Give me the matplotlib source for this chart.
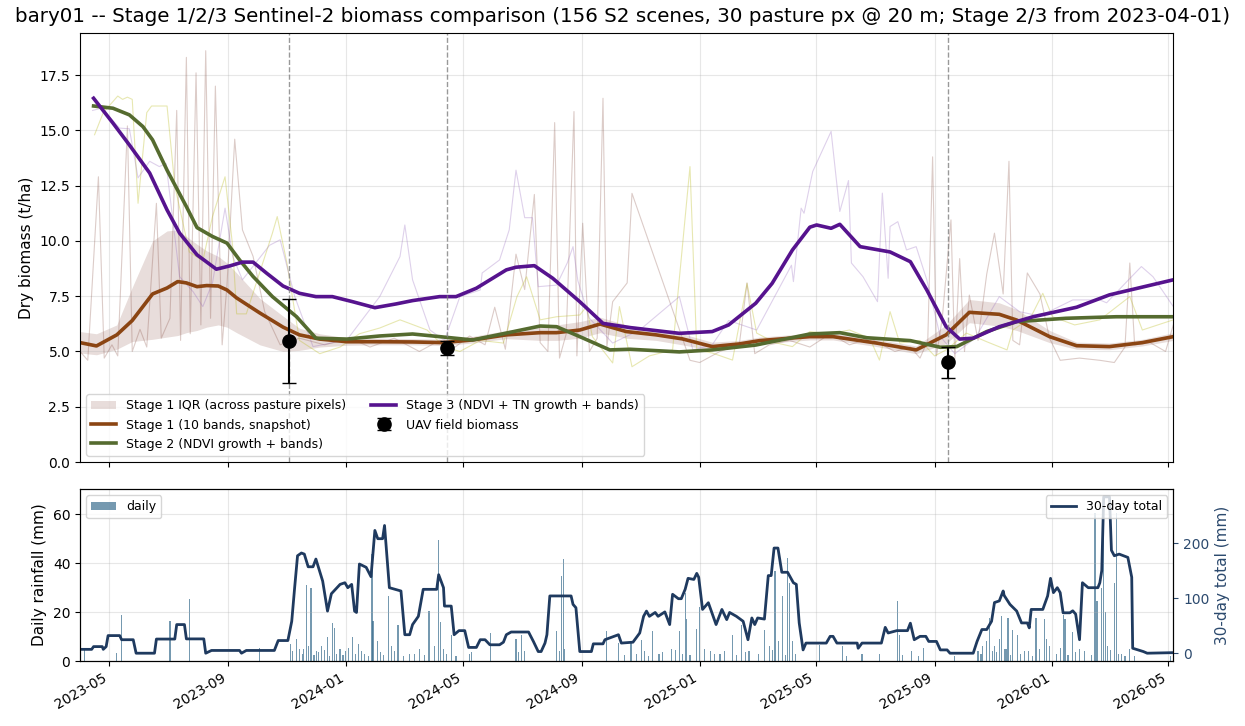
import numpy as np
import pandas as pd
import matplotlib
matplotlib.use("Agg")
import matplotlib.pyplot as plt
import matplotlib.dates as mdates

# Stage 1 smoothed line + IQR band across pasture pixels
s1_dates = ['2023-04-01', '2023-04-18', '2023-05-09', '2023-05-25', '2023-06-15', '2023-06-30', '2023-07-11',
            '2023-07-20', '2023-07-31', '2023-08-10', '2023-08-22', '2023-08-31', '2023-09-10', '2023-10-04',
            '2023-10-28', '2023-11-14', '2023-12-05', '2024-01-02', '2024-02-05', '2024-03-10', '2024-04-10',
            '2024-05-11', '2024-06-15', '2024-07-20', '2024-08-06', '2024-08-30', '2024-09-20', '2024-10-17',
            '2024-11-17', '2024-12-14', '2025-01-14', '2025-02-11', '2025-03-04', '2025-04-04', '2025-04-25',
            '2025-05-19', '2025-07-03', '2025-08-13', '2025-09-13', '2025-10-07', '2025-11-07', '2025-11-25',
            '2025-12-29', '2026-01-26', '2026-03-01', '2026-04-04', '2026-05-06']
s1 = [5.40, 5.25, 5.75, 6.40, 7.60, 7.87, 8.16, 8.10, 7.93, 7.98, 7.96, 7.78, 7.42, 6.74, 6.10, 5.75, 5.56,
      5.44, 5.44, 5.43, 5.40, 5.52, 5.75, 5.85, 5.85, 5.97, 6.24, 5.90, 5.75, 5.57, 5.22, 5.34, 5.49, 5.60,
      5.67, 5.67, 5.38, 5.07, 5.75, 6.77, 6.68, 6.42, 5.67, 5.26, 5.22, 5.40, 5.67]
s1_lo = [4.93, 4.85, 5.10, 5.45, 5.55, 5.65, 5.72, 5.85, 5.95, 6.10, 6.20, 6.10, 5.85, 5.30, 5.00, 5.05, 5.20,
         5.28, 5.30, 5.30, 5.27, 5.38, 5.58, 5.50, 5.50, 5.60, 5.85, 5.60, 5.50, 5.30, 5.05, 5.18, 5.33, 5.45,
         5.52, 5.52, 5.22, 4.90, 5.35, 6.30, 6.15, 5.95, 5.40, 5.10, 5.08, 5.25, 5.50]
s1_hi = [5.90, 5.80, 6.20, 7.90, 10.00, 10.45, 10.50, 10.20, 9.85, 9.55, 9.30, 9.00, 8.55, 7.40, 6.60, 6.05, 5.80,
         5.62, 5.60, 5.58, 5.55, 5.68, 5.95, 6.15, 6.20, 6.35, 6.55, 6.20, 6.00, 5.80, 5.42, 5.50, 5.65, 5.75,
         5.82, 5.82, 5.55, 5.25, 6.20, 7.35, 7.20, 6.90, 5.95, 5.42, 5.38, 5.55, 5.85]

# Stage 2 (NDVI growth + bands)
s2_dates = ['2023-04-15', '2023-05-05', '2023-05-22', '2023-06-05', '2023-06-15', '2023-06-30', '2023-07-20',
            '2023-07-31', '2023-08-16', '2023-08-31', '2023-09-13', '2023-09-27', '2023-10-17', '2023-11-11',
            '2023-12-01', '2024-01-02', '2024-02-05', '2024-03-10', '2024-04-07', '2024-05-11', '2024-06-15',
            '2024-07-20', '2024-08-06', '2024-08-30', '2024-09-30', '2024-10-21', '2024-12-11', '2025-01-14',
            '2025-02-28', '2025-04-25', '2025-05-26', '2025-06-23', '2025-08-07', '2025-09-07', '2025-09-24',
            '2025-10-25', '2025-11-25', '2026-01-15', '2026-03-08', '2026-05-06']
s2 = [16.1, 16.0, 15.7, 15.17, 14.57, 13.2, 11.55, 10.6, 10.2, 9.9, 9.14, 8.39, 7.48, 6.57, 5.6, 5.56, 5.7,
      5.79, 5.67, 5.52, 5.83, 6.15, 6.12, 5.67, 5.07, 5.1, 4.98, 5.07, 5.29, 5.79, 5.85, 5.62, 5.49, 5.19,
      5.22, 5.9, 6.35, 6.5, 6.57, 6.57]

# Stage 3 (NDVI + TN growth + bands)
s3_dates = ['2023-04-15', '2023-05-05', '2023-05-22', '2023-06-12', '2023-06-30', '2023-07-13', '2023-07-31',
            '2023-08-20', '2023-09-03', '2023-09-16', '2023-09-27', '2023-10-11', '2023-10-28', '2023-11-14',
            '2023-12-01', '2023-12-18', '2024-01-08', '2024-01-31', '2024-02-22', '2024-03-10', '2024-04-07',
            '2024-04-24', '2024-05-15', '2024-06-15', '2024-06-25', '2024-07-14', '2024-08-02', '2024-08-30',
            '2024-09-23', '2024-10-21', '2024-12-11', '2025-01-14', '2025-01-31', '2025-02-28', '2025-03-17',
            '2025-04-07', '2025-04-25', '2025-05-02', '2025-05-17', '2025-05-26', '2025-06-16', '2025-07-17',
            '2025-08-07', '2025-08-24', '2025-09-13', '2025-09-27', '2025-10-11', '2025-11-07', '2025-12-12',
            '2026-01-26', '2026-03-01', '2026-05-06']
s3 = [16.45, 15.33, 14.34, 13.07, 11.4, 10.35, 9.37, 8.72, 8.87, 9.04, 9.04, 8.54, 7.96, 7.63, 7.48, 7.48,
      7.25, 6.98, 7.15, 7.30, 7.48, 7.48, 7.86, 8.69, 8.81, 8.88, 8.31, 7.25, 6.27, 6.08, 5.82, 5.90, 6.20,
      7.18, 8.08, 9.59, 10.62, 10.72, 10.57, 10.75, 9.74, 9.50, 9.06, 7.78, 6.12, 5.56, 5.60, 6.12, 6.57,
      7.00, 7.56, 8.24]

# per-scene (unsmoothed) predictions
r1_dates = ['2023-04-01', '2023-04-09', '2023-04-20', '2023-04-26', '2023-05-04', '2023-05-10', '2023-05-20',
            '2023-05-25', '2023-06-02', '2023-06-09', '2023-06-19', '2023-06-24', '2023-07-03', '2023-07-10',
            '2023-07-14', '2023-07-20', '2023-07-24', '2023-07-30', '2023-08-04', '2023-08-09', '2023-08-14',
            '2023-08-19', '2023-08-26', '2023-08-31', '2023-09-08', '2023-09-16', '2023-09-27', '2023-10-09',
            '2023-10-25', '2023-11-14', '2023-12-10', '2024-01-05', '2024-01-26', '2024-02-20', '2024-03-17',
            '2024-04-07', '2024-04-23', '2024-05-08', '2024-05-24', '2024-06-03', '2024-06-14', '2024-06-25',
            '2024-07-04', '2024-07-14', '2024-07-20', '2024-07-28', '2024-08-04', '2024-08-09', '2024-08-16',
            '2024-08-24', '2024-08-27', '2024-09-02', '2024-09-09', '2024-09-17', '2024-09-23', '2024-09-27',
            '2024-10-03', '2024-10-18', '2024-10-23', '2024-12-11', '2024-12-22', '2025-01-01', '2025-01-22',
            '2025-02-11', '2025-02-19', '2025-02-27', '2025-03-14', '2025-04-04', '2025-04-25', '2025-05-16',
            '2025-06-05', '2025-06-26', '2025-07-22', '2025-08-07', '2025-08-17', '2025-08-25', '2025-08-30',
            '2025-09-03', '2025-09-09', '2025-09-18', '2025-09-22', '2025-09-27', '2025-10-02', '2025-10-07',
            '2025-10-16', '2025-10-25', '2025-11-02', '2025-11-11', '2025-11-17', '2025-11-21', '2025-11-28',
            '2025-12-06', '2025-12-19', '2025-12-29', '2026-01-09', '2026-01-29', '2026-02-19', '2026-03-06',
            '2026-03-17', '2026-03-22', '2026-03-27', '2026-04-12', '2026-04-28', '2026-05-06']
r1 = [5.0, 4.6, 12.9, 4.7, 5.3, 4.8, 15.2, 5.0, 6.0, 5.2, 11.7, 5.6, 6.5, 15.9, 5.5, 18.3, 5.8, 17.6, 6.2,
      18.6, 6.5, 17.0, 5.3, 8.0, 14.6, 10.5, 9.3, 6.8, 5.3, 5.6, 5.3, 5.6, 5.2, 5.6, 5.0, 5.5, 5.2, 5.7, 5.3,
      7.0, 5.1, 9.4, 7.8, 12.1, 5.4, 5.0, 15.35, 4.7, 5.8, 15.85, 4.8, 10.8, 5.0, 5.6, 16.45, 5.2, 7.25, 8.1,
      12.15, 6.0, 4.6, 4.5, 5.0, 5.3, 8.1, 4.9, 5.3, 5.5, 5.2, 5.8, 5.3, 5.6, 5.0, 5.2, 4.7, 5.5, 13.8, 4.8,
      6.5, 10.95, 4.6, 9.2, 5.0, 7.55, 5.5, 8.5, 10.35, 7.6, 13.6, 5.5, 5.3, 8.55, 7.6, 5.6, 4.6, 4.7, 4.6,
      4.5, 5.2, 9.0, 5.3, 5.4, 5.0, 6.2]

r2_dates = ['2023-04-16', '2023-04-25', '2023-05-10', '2023-05-15', '2023-05-20', '2023-05-25', '2023-05-31',
            '2023-06-09', '2023-06-14', '2023-06-24', '2023-06-30', '2023-07-08', '2023-07-23', '2023-08-06',
            '2023-08-16', '2023-08-29', '2023-09-06', '2023-09-10', '2023-09-20', '2023-10-17', '2023-10-22',
            '2023-11-01', '2023-11-14', '2023-12-05', '2023-12-26', '2024-01-15', '2024-02-05', '2024-02-26',
            '2024-03-25', '2024-04-12', '2024-04-28', '2024-05-19', '2024-06-12', '2024-06-26', '2024-07-06',
            '2024-07-20', '2024-08-06', '2024-08-30', '2024-09-06', '2024-09-12', '2024-10-03', '2024-10-10',
            '2024-10-23', '2024-11-10', '2024-12-04', '2024-12-22', '2024-12-29', '2025-01-14', '2025-02-04',
            '2025-02-19', '2025-03-01', '2025-03-20', '2025-04-07', '2025-04-25', '2025-05-16', '2025-06-05',
            '2025-06-26', '2025-07-06', '2025-07-17', '2025-07-27', '2025-08-17', '2025-09-01', '2025-09-13',
            '2025-10-04', '2025-10-25', '2025-11-15', '2025-11-21', '2025-12-09', '2025-12-22', '2026-01-01',
            '2026-01-24', '2026-02-19', '2026-03-22', '2026-04-04', '2026-05-06']
r2 = [14.8, 15.8, 16.55, 16.4, 16.5, 16.4, 11.7, 15.8, 16.1, 16.1, 16.1, 12.5, 9.5, 9.1, 11.1, 12.9, 9.7,
      6.7, 6.7, 10.35, 11.1, 9.0, 5.5, 4.9, 5.2, 5.8, 6.06, 6.43, 5.97, 5.2, 5.0, 5.5, 5.38, 7.48, 8.38,
      6.43, 6.57, 6.65, 7.03, 5.67, 4.48, 7.03, 4.31, 4.8, 5.07, 13.36, 5.07, 4.93, 4.61, 8.08, 5.83, 5.4,
      5.22, 5.9, 5.8, 5.97, 5.6, 4.61, 6.8, 5.38, 5.5, 4.8, 5.07, 5.83, 5.44, 5.07, 5.97, 6.5, 7.63, 6.57,
      6.2, 6.43, 7.48, 5.97, 6.43]

r3_dates = ['2023-04-14', '2023-04-23', '2023-05-12', '2023-05-22', '2023-05-31', '2023-06-12', '2023-06-22',
            '2023-06-29', '2023-07-13', '2023-07-27', '2023-08-06', '2023-08-16', '2023-08-29', '2023-09-06',
            '2023-09-16', '2023-10-14', '2023-10-25', '2023-11-09', '2023-11-28', '2024-01-02', '2024-02-05',
            '2024-02-26', '2024-03-02', '2024-03-10', '2024-03-28', '2024-04-12', '2024-04-28', '2024-05-19',
            '2024-05-21', '2024-06-08', '2024-06-18', '2024-06-25', '2024-07-04', '2024-07-12', '2024-07-18',
            '2024-08-06', '2024-08-17', '2024-08-23', '2024-08-28', '2024-09-09', '2024-10-03', '2024-10-31',
            '2024-12-11', '2024-12-25', '2025-01-14', '2025-01-31', '2025-03-01', '2025-04-06', '2025-04-08',
            '2025-04-16', '2025-04-19', '2025-04-28', '2025-05-17', '2025-05-26', '2025-06-04', '2025-06-07',
            '2025-06-19', '2025-07-04', '2025-07-09', '2025-07-15', '2025-07-17', '2025-07-25', '2025-08-03',
            '2025-08-13', '2025-08-24', '2025-09-07', '2025-09-22', '2025-10-13', '2025-11-07', '2025-11-28',
            '2025-12-19', '2026-01-22', '2026-02-19', '2026-02-26', '2026-03-22', '2026-04-03', '2026-04-15',
            '2026-05-06']
r3 = [15.9, 16.0, 15.1, 15.07, 12.85, 13.6, 13.36, 13.5, 8.38, 7.7, 7.03, 8.1, 11.48, 9.29, 8.24, 9.8,
      10.05, 7.5, 5.22, 5.52, 7.48, 9.29, 10.72, 8.24, 5.97, 5.5, 7.48, 7.78, 8.55, 9.14, 10.5, 13.2, 11.05,
      11.05, 7.93, 8.0, 9.0, 9.74, 8.2, 6.5, 5.38, 5.97, 7.48, 5.07, 5.3, 6.4, 5.97, 8.9, 8.16, 11.48, 11.25,
      13.14, 14.95, 11.33, 12.73, 9.0, 8.38, 7.25, 12.16, 8.31, 10.65, 10.87, 9.59, 9.74, 8.24, 5.67, 4.9,
      5.6, 7.48, 6.8, 6.6, 7.33, 7.33, 7.2, 8.3, 8.84, 8.38, 7.03]

# UAV field biomass
uav_dates = ['2023-11-03', '2024-04-15', '2025-09-15']
uav = [5.48, 5.17, 4.51]
uav_err = [1.9, 0.32, 0.69]

# daily rainfall (mm)
rain_dates = ['2023-04-06', '2023-05-09', '2023-05-14', '2023-07-03', '2023-07-23', '2023-10-04', '2023-11-05',
              '2023-11-07', '2023-11-11', '2023-11-14', '2023-11-21', '2023-11-23', '2023-11-26', '2023-12-02',
              '2023-12-07', '2023-12-13', '2023-12-18', '2023-12-20', '2023-12-26', '2024-01-01', '2024-01-08',
              '2024-01-14', '2024-01-20', '2024-01-28', '2024-01-29', '2024-02-03', '2024-02-14', '2024-02-17',
              '2024-02-24', '2024-03-07', '2024-03-17', '2024-03-27', '2024-04-02', '2024-04-06', '2024-04-08',
              '2024-04-19', '2024-05-08', '2024-05-10', '2024-05-30', '2024-06-25', '2024-07-01', '2024-07-04',
              '2024-08-06', '2024-08-11', '2024-08-13', '2024-08-14', '2024-09-27', '2024-10-09', '2024-10-22',
              '2024-11-02', '2024-11-05', '2024-11-13', '2024-11-20', '2024-12-03', '2024-12-11', '2024-12-17',
              '2024-12-18', '2024-12-29', '2025-01-01', '2025-01-12', '2025-01-22', '2025-02-04', '2025-02-13',
              '2025-02-21', '2025-03-09', '2025-03-14', '2025-03-20', '2025-03-24', '2025-03-28', '2025-04-02',
              '2025-04-04', '2025-04-07', '2025-05-05', '2025-05-29', '2025-06-18', '2025-07-06', '2025-07-25',
              '2025-07-27', '2025-08-08', '2025-08-21', '2025-09-22', '2025-10-16', '2025-10-21', '2025-10-25',
              '2025-10-28', '2025-11-02', '2025-11-07', '2025-11-09', '2025-11-12', '2025-11-16', '2025-11-21',
              '2025-11-26', '2025-12-03', '2025-12-15', '2025-12-19', '2025-12-24', '2025-12-26', '2025-12-29',
              '2026-01-12', '2026-01-14', '2026-01-22', '2026-01-29', '2026-02-14', '2026-02-16', '2026-02-21',
              '2026-02-23', '2026-02-25', '2026-03-06', '2026-03-08', '2026-03-13', '2026-03-22', '2026-03-27',
              '2026-05-03',
              # smaller showers seen as short bars
              '2023-11-17', '2023-11-18', '2023-11-29', '2023-12-04', '2023-12-10', '2023-12-15', '2023-12-22',
              '2023-12-29', '2024-01-04', '2024-01-11', '2024-01-17', '2024-01-24', '2024-02-06', '2024-02-09',
              '2024-02-20', '2024-03-01', '2024-03-12', '2024-03-22', '2024-04-11', '2024-04-14', '2024-04-24',
              '2024-06-28', '2024-08-09', '2024-10-15', '2024-10-28', '2024-11-09', '2024-11-24', '2024-12-07',
              '2024-12-14', '2024-12-22', '2025-01-06', '2025-01-16', '2025-01-27', '2025-02-08', '2025-02-17',
              '2025-03-03', '2025-03-17', '2025-03-31', '2025-04-10', '2025-06-02', '2025-07-30', '2025-08-15',
              '2025-10-19', '2025-10-31', '2025-11-04', '2025-11-14', '2025-11-19', '2025-11-29', '2025-12-07',
              '2025-12-11', '2026-01-05', '2026-01-09', '2026-01-17', '2026-01-25', '2026-02-03', '2026-02-10',
              '2026-02-27', '2026-03-02', '2026-03-10', '2026-03-17']
rain_mm = [4.6, 3.3, 19.0, 16.2, 25.4, 5.5, 7.0, 4.0, 9.0, 5.0, 31.0, 6.0, 30.0, 4.0, 6.0, 10.0, 15.5, 13.5,
           5.0, 4.0, 10.0, 7.0, 3.0, 43.6, 16.5, 8.0, 26.5, 6.0, 14.7, 3.0, 5.0, 20.4, 6.0, 49.3, 16.0, 10.8,
           3.0, 3.5, 11.5, 9.0, 10.8, 4.0, 12.2, 34.7, 41.9, 5.0, 12.2, 7.4, 8.0, 8.7, 4.0, 12.2, 3.0, 5.0,
           12.2, 27.9, 17.0, 13.0, 22.0, 4.0, 3.0, 10.8, 14.8, 4.0, 12.8, 6.0, 36.7, 8.0, 26.6, 42.2, 32.0, 8.0,
           6.7, 6.0, 3.0, 3.0, 24.5, 10.8, 4.0, 5.5, 2.0, 4.0, 6.0, 8.0, 17.6, 6.0, 9.0, 18.3, 5.0, 17.6, 12.8,
           10.8, 4.0, 17.6, 5.0, 17.0, 9.0, 6.0, 19.0, 17.0, 12.0, 5.0, 60.6, 24.5, 30.0, 67.0, 20.0, 32.0,
           60.6, 3.0, 5.0, 2.0, 2.0,
           3.0, 5.0, 2.5, 3.5, 4.5, 2.0, 3.0, 2.5, 5.5, 3.0, 4.0, 2.0, 3.5, 2.5, 4.0, 2.0, 3.0, 2.5, 5.0, 3.0,
           2.0, 3.5, 4.0, 2.5, 3.0, 2.0, 3.5, 4.5, 3.0, 2.5, 5.0, 3.0, 4.0, 2.5, 3.5, 3.0, 4.5, 2.5, 3.0, 2.0,
           2.5, 2.0, 3.0, 4.0, 3.5, 5.0, 2.5, 3.0, 4.0, 2.0, 3.0, 5.5, 2.5, 3.5, 4.0, 2.5, 6.0, 4.5, 3.0, 2.0]

# 30-day rolling total (mm)
tot_dates = ['2023-04-01', '2023-04-13', '2023-04-15', '2023-04-24', '2023-04-25', '2023-04-28', '2023-04-30',
             '2023-05-12', '2023-05-14', '2023-05-26', '2023-05-29', '2023-06-17', '2023-06-19', '2023-07-08',
             '2023-07-10', '2023-07-18', '2023-07-20', '2023-08-07', '2023-08-09', '2023-08-15', '2023-09-13',
             '2023-09-15', '2023-09-20', '2023-10-19', '2023-10-23', '2023-11-02', '2023-11-06', '2023-11-09',
             '2023-11-12', '2023-11-16', '2023-11-19', '2023-11-23', '2023-11-28', '2023-12-01', '2023-12-08',
             '2023-12-13', '2023-12-17', '2023-12-26', '2023-12-31', '2024-01-03', '2024-01-07', '2024-01-10',
             '2024-01-12', '2024-01-15', '2024-01-22', '2024-01-27', '2024-01-31', '2024-02-03', '2024-02-08',
             '2024-02-10', '2024-02-15', '2024-02-27', '2024-03-02', '2024-03-07', '2024-03-10', '2024-03-16',
             '2024-03-21', '2024-04-04', '2024-04-06', '2024-04-11', '2024-04-12', '2024-04-19', '2024-04-22',
             '2024-04-27', '2024-05-03', '2024-05-07', '2024-05-15', '2024-05-19', '2024-05-24', '2024-05-29',
             '2024-06-08', '2024-06-12', '2024-06-15', '2024-06-20', '2024-07-08', '2024-07-13', '2024-07-18',
             '2024-07-21', '2024-07-25', '2024-07-27', '2024-07-30', '2024-08-21', '2024-08-23', '2024-08-26',
             '2024-08-30', '2024-09-11', '2024-09-13', '2024-09-23', '2024-09-25', '2024-10-09', '2024-10-12',
             '2024-10-24', '2024-10-31', '2024-11-04', '2024-11-07', '2024-11-10', '2024-11-16', '2024-11-19',
             '2024-11-26', '2024-12-01', '2024-12-04', '2024-12-10', '2024-12-13', '2024-12-17', '2024-12-20',
             '2024-12-26', '2024-12-29', '2024-12-31', '2025-01-04', '2025-01-10', '2025-01-13', '2025-01-18',
             '2025-01-24', '2025-01-29', '2025-02-01', '2025-02-08', '2025-02-15', '2025-02-20', '2025-02-24',
             '2025-02-27', '2025-03-02', '2025-03-09', '2025-03-13', '2025-03-16', '2025-03-19', '2025-03-23',
             '2025-03-27', '2025-04-02', '2025-04-08', '2025-04-11', '2025-04-14', '2025-04-18', '2025-04-21',
             '2025-05-12', '2025-05-16', '2025-05-19', '2025-05-23', '2025-06-13', '2025-06-14', '2025-06-18',
             '2025-07-08', '2025-07-12', '2025-07-15', '2025-07-24', '2025-08-04', '2025-08-07', '2025-08-11',
             '2025-08-17', '2025-08-23', '2025-08-26', '2025-09-03', '2025-09-07', '2025-09-14', '2025-09-17',
             '2025-10-11', '2025-10-15', '2025-10-20', '2025-10-25', '2025-10-30', '2025-11-02', '2025-11-07',
             '2025-11-11', '2025-11-12', '2025-11-18', '2025-11-25', '2025-11-30', '2025-12-06', '2025-12-08',
             '2025-12-10', '2025-12-22', '2025-12-27', '2025-12-30', '2026-01-02', '2026-01-06', '2026-01-09',
             '2026-01-12', '2026-01-19', '2026-01-22', '2026-01-25', '2026-01-29', '2026-02-01', '2026-02-07',
             '2026-02-17', '2026-02-19', '2026-02-21', '2026-02-23', '2026-03-01', '2026-03-03', '2026-03-06',
             '2026-03-11', '2026-03-20', '2026-03-24', '2026-03-25', '2026-04-05', '2026-04-09', '2026-05-06']
tot_mm = [7, 7, 12, 12, 7, 12, 32, 32, 24.5, 24.5, 0, 0, 25.7, 25.7, 52, 52, 26, 26, 0, 5, 5, 0, 5, 5, 23, 23,
          58, 119, 177, 182, 180, 157, 157, 171, 131, 76.5, 108, 125, 128, 119, 125, 76.5, 74, 162, 156, 139,
          223, 208, 208, 232, 119, 113, 33.6, 33.6, 52, 67, 116, 116, 142.6, 119, 85.6, 85.6, 33.6, 41, 41,
          10.5, 10.5, 24.5, 24.5, 15.3, 15.3, 20, 33.6, 38.5, 38.5, 21.4, 3, 3, 18.4, 33.6, 104, 104, 88.7,
          82.6, 3, 3, 17, 17, 24.5, 33.6, 18.4, 20, 36.7, 67, 76.5, 67, 74, 67, 75, 52, 107, 99, 99, 116, 136,
          134, 145, 138, 79.5, 91.7, 77, 52, 79.5, 61, 74, 67, 58, 24.5, 64, 52, 64, 62, 141, 141, 191, 191,
          147, 147, 128, 125, 55, 6, 18.4, 18.4, 30.6, 30.6, 18.4, 18.4, 9, 18.4, 18.4, 47, 36.7, 41, 41, 54.5,
          24.5, 30.6, 30.6, 21.4, 21.4, 6, 6, 0, 0, 21.4, 43, 43, 58, 92, 95, 113, 105, 88.7, 76.5, 55, 55, 46,
          79.5, 79.5, 104, 136, 110, 119, 110, 73.4, 73.4, 77, 71, 24.5, 128, 119, 119, 128, 150, 284, 284, 187,
          177, 180, 174, 138, 9, 3, 0, 1]

title = ("bary01 -- Stage 1/2/3 Sentinel-2 biomass comparison "
         "(156 S2 scenes, 30 pasture px @ 20 m; Stage 2/3 from 2023-04-01)")

c1 = '#8b4513'
c2 = '#556b2f'
c3 = '#56138e'
navy = '#1f3a5f'

d = pd.to_datetime
fig = plt.figure(figsize=(12.45, 7.26), dpi=100)
ax = fig.add_axes([0.0643, 0.3636, 0.8781, 0.5909])
axr = fig.add_axes([0.0643, 0.0895, 0.8781, 0.2369], sharex=ax)

# raw per-scene lines
ax.plot(d(r1_dates), r1, color='#8c564b', alpha=0.3, lw=0.8)
ax.plot(d(r2_dates), r2, color='#bcbd22', alpha=0.35, lw=0.8)
ax.plot(d(r3_dates), r3, color='#9467bd', alpha=0.3, lw=0.8)

ax.fill_between(d(s1_dates), s1_lo, s1_hi, color='#8c564b', alpha=0.2, lw=0,
                label='Stage 1 IQR (across pasture pixels)')
ax.plot(d(s1_dates), s1, color=c1, lw=2.6, label='Stage 1 (10 bands, snapshot)')
ax.plot(d(s2_dates), s2, color=c2, lw=2.6, label='Stage 2 (NDVI growth + bands)')
ax.plot(d(s3_dates), s3, color=c3, lw=2.6, label='Stage 3 (NDVI + TN growth + bands)')
for u in uav_dates:
    ax.axvline(d(u), color='gray', ls='--', lw=1, alpha=0.8)
ax.errorbar(d(uav_dates), uav, yerr=uav_err, fmt='o', color='black', ms=9.5, capsize=5, elinewidth=1.5,
            zorder=5, label='UAV field biomass')

ax.set_ylim(0, 19.4)
ax.set_ylabel('Dry biomass (t/ha)', fontsize=11)
ax.grid(True, alpha=0.3)
ax.legend(loc='lower left', ncol=2, fontsize=9)
ax.tick_params(labelbottom=False, labelsize=10)

# rainfall panel
axr.bar(d(rain_dates), rain_mm, width=1.2, color='#3b6e8f', alpha=0.7, label='daily')
axr.set_ylabel('Daily rainfall (mm)', fontsize=11)
axr.grid(True, alpha=0.3)
axr.legend(loc='upper left', fontsize=9)
axr.tick_params(labelsize=10)

ax2 = axr.twinx()
ax2.plot(d(tot_dates), tot_mm, color=navy, lw=2.0, label='30-day total')
ax2.set_ylabel('30-day total (mm)', color='#2c4a6e', fontsize=11)
ax2.tick_params(axis='y', colors='#2c4a6e', labelsize=10)
ax2.legend(loc='upper right', fontsize=9)

axr.set_xlim(d('2023-04-01'), d('2026-05-06'))
axr.xaxis.set_major_locator(mdates.MonthLocator(bymonth=[1, 5, 9]))
axr.xaxis.set_major_formatter(mdates.DateFormatter('%Y-%m'))
plt.setp(axr.get_xticklabels(), rotation=30, ha='right')

fig.text(0.5, 0.977, title, ha='center', va='center', fontsize=14.3)

fig.savefig('out.png', dpi=100)
